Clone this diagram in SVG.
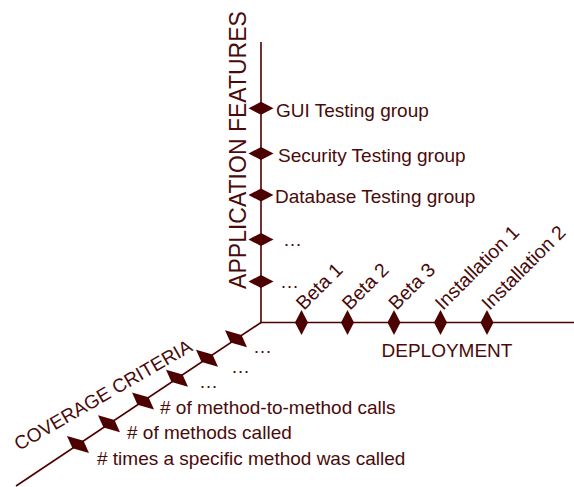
<svg xmlns="http://www.w3.org/2000/svg" width="574" height="487" viewBox="0 0 574 487">
<defs>
<style>
.ax{stroke:#4d0000;stroke-width:1.6;fill:none}
.dm{fill:#4d0000}
text{font-family:"Liberation Sans",Arial,sans-serif;fill:#4a0a0a;font-size:19px}
.big{font-size:23px}
</style>
<polygon id="dh" points="-12.5,0 0,-6.5 12.5,0 0,6.5"/>
<polygon id="dv" points="0,-12.5 6.5,0 0,12.5 -6.5,0"/>
<polygon id="dd" points="-11,-8.5 5.5,-3.7 11,8.5 -5.5,3.7"/>
</defs>
<rect width="574" height="487" fill="#ffffff"/>
<g id="connectors">
<line class="ax" x1="261" y1="42" x2="261" y2="322.5"/>
<line class="ax" x1="260.2" y1="322.5" x2="574" y2="322.5"/>
<line class="ax" x1="261" y1="322.5" x2="16" y2="486"/>
</g>
<g id="axis-features">
<text class="big" transform="translate(245.5,150) rotate(-90)" text-anchor="middle">APPLICATION FEATURES</text>
</g>
<g id="f-gui"><use href="#dh" class="dm" x="261" y="108.3"/><text x="276" y="116.5">GUI Testing group</text></g>
<g id="f-security"><use href="#dh" class="dm" x="261" y="153.5"/><text x="278" y="161.5">Security Testing group</text></g>
<g id="f-database"><use href="#dh" class="dm" x="261" y="195"/><text x="275" y="202.5">Database Testing group</text></g>
<g id="f-more1"><use href="#dh" class="dm" x="261" y="239.5"/><text x="283" y="246">…</text></g>
<g id="f-more2"><use href="#dh" class="dm" x="261" y="281.5"/><text x="280" y="288">…</text></g>
<g id="axis-deployment"><text x="381.5" y="356.5">DEPLOYMENT</text></g>
<g id="d-beta1"><use href="#dv" class="dm" x="301.5" y="322.5"/><text transform="translate(304,311) rotate(-45)" style="font-size:19.5px">Beta 1</text></g>
<g id="d-beta2"><use href="#dv" class="dm" x="347.5" y="322.5"/><text transform="translate(350,311) rotate(-45)" style="font-size:19.5px">Beta 2</text></g>
<g id="d-beta3"><use href="#dv" class="dm" x="394" y="322.5"/><text transform="translate(396.5,311) rotate(-45)" style="font-size:19.5px">Beta 3</text></g>
<g id="d-inst1"><use href="#dv" class="dm" x="440.5" y="322.5"/><text transform="translate(443,311) rotate(-45)" style="font-size:19.5px">Installation 1</text></g>
<g id="d-inst2"><use href="#dv" class="dm" x="487" y="322.5"/><text transform="translate(489.5,311) rotate(-45)" style="font-size:19.5px">Installation 2</text></g>
<g id="axis-coverage"><text transform="translate(19,451) rotate(-30)">COVERAGE CRITERIA</text></g>
<g id="c-more1"><use href="#dd" class="dm" x="236" y="338.7"/><text x="253" y="353">…</text></g>
<g id="c-more2"><use href="#dd" class="dm" x="207" y="358.2"/><text x="231" y="373">…</text></g>
<g id="c-more3"><use href="#dd" class="dm" x="177" y="378.3"/><text x="199" y="388">…</text></g>
<g id="c-m2m"><use href="#dd" class="dm" x="143" y="401"/><text x="160" y="413.5">#  of method-to-method calls</text></g>
<g id="c-methods"><use href="#dd" class="dm" x="109" y="423.7"/><text x="127" y="439">#  of methods called</text></g>
<g id="c-times"><use href="#dd" class="dm" x="78" y="444.5"/><text x="97" y="465">#  times a specific method was called</text></g>
</svg>
